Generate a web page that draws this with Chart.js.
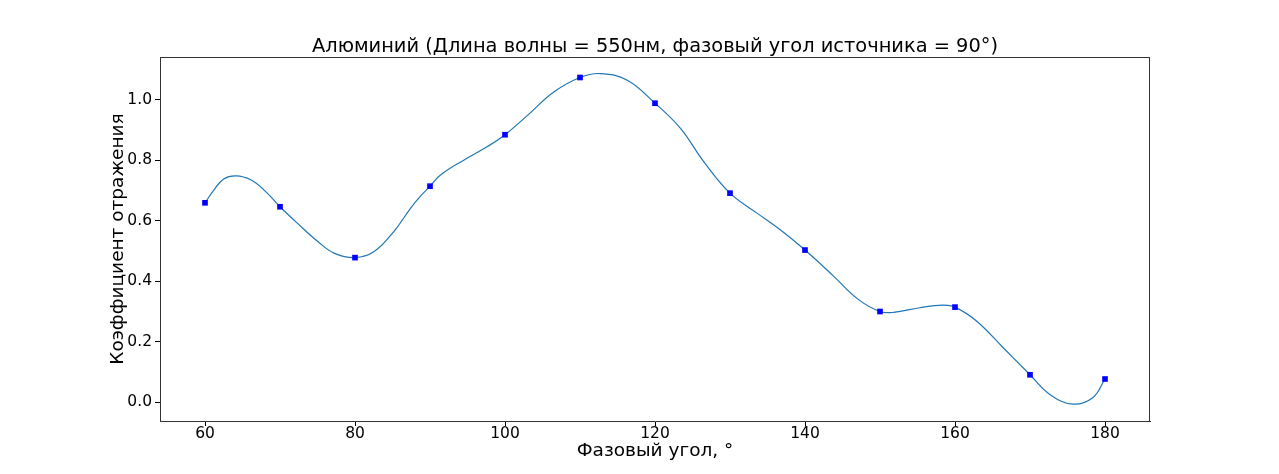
<!DOCTYPE html>
<html>
<head>
<meta charset="utf-8">
<script src="https://cdn.jsdelivr.net/npm/chart.js@4/dist/chart.umd.min.js"></script>
<style>
  html, body { margin: 0; padding: 0; background: #fff; }
  #wrap { width: 1279px; height: 474px; }
</style>
</head>
<body>
<div id="wrap"><canvas id="myChart" width="1279" height="474"></canvas></div>
<script>
// measured points (blue squares)
var angles = [60, 70, 80, 90, 100, 110, 120, 130, 140, 150, 160, 170, 180];
var reflectance = [0.659, 0.646, 0.478, 0.714, 0.884, 1.073, 0.988, 0.691, 0.503, 0.300, 0.3145, 0.091, 0.077];

// smooth curve
var curveAngles = [60, 61.2, 62.5, 64.1, 66.1, 68.1, 70, 72.3, 75, 77.2, 80, 82.5, 85.2, 87.4, 88.7, 90,
  91.4, 94.5, 97.6, 100, 103, 106.5, 110, 112.7, 116.3, 120, 123.4, 126.5, 130, 133.6, 136.7, 140,
  143.8, 147.1, 150, 151.8, 155.3, 158.4, 160, 162.9, 166.4, 170, 172.6, 175.7, 178.4, 180];
var curveValues = [0.659, 0.702, 0.738, 0.748, 0.735, 0.696, 0.646, 0.592, 0.532, 0.493, 0.478, 0.497, 0.565, 0.641, 0.680, 0.714,
  0.751, 0.800, 0.844, 0.884, 0.948, 1.025, 1.073, 1.086, 1.064, 0.988, 0.905, 0.795, 0.691, 0.625, 0.570, 0.503,
  0.417, 0.340, 0.300, 0.297, 0.3125, 0.321, 0.3145, 0.268, 0.181, 0.091, 0.027, -0.006, 0.016, 0.077];

var xTicks = [60, 80, 100, 120, 140, 160, 180];
var yTicks = [0.0, 0.2, 0.4, 0.6, 0.8, 1.0];

var titleText = 'Алюминий (Длина волны = 550нм, фазовый угол источника = 90°)';
var xLabel = 'Фазовый угол, °';
var yLabel = 'Коэффициент отражения';

function pairs(xs, ys) {
  return xs.map(function(x, i) { return {x: x, y: ys[i]}; });
}

Chart.defaults.font.family = '"DejaVu Sans", sans-serif';
Chart.defaults.color = '#000';

const ctx = document.getElementById('myChart').getContext('2d');
const myChart = new Chart(ctx, {
  type: 'scatter',
  data: {
    datasets: [{
      type: 'line',
      label: 'curve',
      data: pairs(curveAngles, curveValues),
      borderColor: '#1f77b4',
      borderWidth: 1.2,
      pointRadius: 0,
      fill: false,
      tension: 0.4,
      order: 2
    }, {
      label: 'points',
      data: pairs(angles, reflectance),
      pointStyle: 'rect',
      pointRadius: 4,
      backgroundColor: '#0000ff',
      borderColor: '#0000ff',
      borderWidth: 0,
      order: 1
    }]
  },
  options: {
    responsive: false,
    animation: false,
    layout: { padding: { left: 107.5, right: 129, top: 0, bottom: 11.4 } },
    plugins: {
      legend: { display: false },
      tooltip: { enabled: false },
      title: {
        display: true,
        text: titleText,
        fullSize: false,
        font: { size: 19.4, weight: 'normal', lineHeight: 1 },
        color: '#000',
        padding: { top: 37.6, bottom: 0 }
      }
    },
    scales: {
      x: {
        type: 'linear',
        min: 54,
        max: 186,
        afterBuildTicks: function(axis) {
          axis.ticks = xTicks.map(function(v) { return {value: v}; });
        },
        afterFit: function(axis) { axis.height = 41.6; },
        grid: { display: true, drawOnChartArea: false, drawTicks: true, tickLength: 5, color: '#000' },
        border: { display: true, color: '#333', width: 1 },
        ticks: { font: { size: 15.5 }, padding: -1, color: '#000', maxRotation: 0 },
        title: { display: true, text: xLabel, font: { size: 18.5 }, padding: { top: 0, bottom: 0 }, color: '#000' }
      },
      y: {
        type: 'linear',
        min: -0.0617,
        max: 1.1407,
        afterBuildTicks: function(axis) {
          axis.ticks = yTicks.map(function(v) { return {value: v}; });
        },
        afterFit: function(axis) { axis.width = 52.5; },
        grid: { display: true, drawOnChartArea: false, drawTicks: true, tickLength: 5, color: '#000' },
        border: { display: true, color: '#333', width: 1 },
        ticks: {
          font: { size: 15.5 }, padding: 3, color: '#000',
          callback: function(v) { return Number(v).toFixed(1); }
        },
        title: { display: true, text: yLabel, font: { size: 18.5 }, padding: { top: 0, bottom: 0 }, color: '#000' }
      }
    }
  },
  plugins: [{
    id: 'frame',
    afterDraw: function(chart) {
      var a = chart.chartArea, c = chart.ctx;
      c.save();
      c.strokeStyle = '#333';
      c.lineWidth = 1;
      c.beginPath();
      c.moveTo(a.left, a.top + 0.5);
      c.lineTo(a.right, a.top + 0.5);
      c.moveTo(a.right - 0.5, a.top);
      c.lineTo(a.right - 0.5, a.bottom);
      c.stroke();
      c.restore();
    }
  }]
});
</script>
</body>
</html>
